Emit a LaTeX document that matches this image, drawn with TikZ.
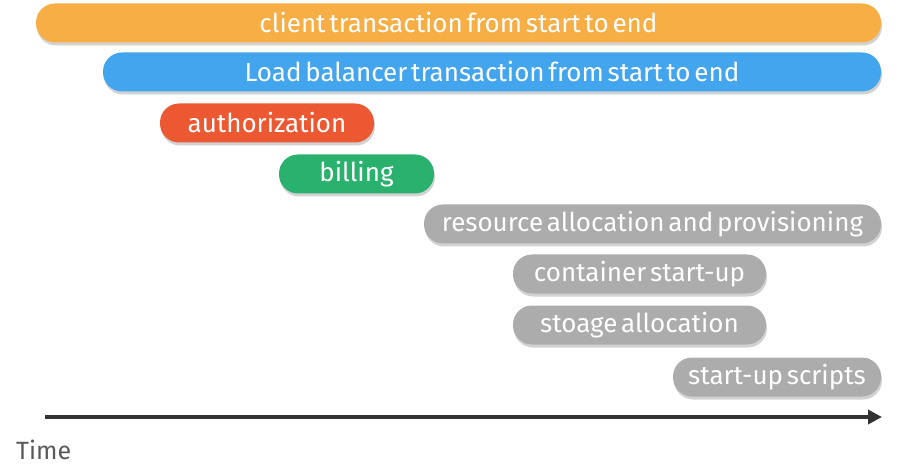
\documentclass[tikz,border=0pt]{standalone}
\usepackage{fontspec}
\setmainfont{Fira Sans}[WordSpace=0.55]
\usetikzlibrary{arrows.meta,shadows}

\definecolor{barorange}{RGB}{246,174,69}
\definecolor{barblue}{RGB}{66,165,238}
\definecolor{barred}{RGB}{235,88,50}
\definecolor{bargreen}{RGB}{43,177,110}
\definecolor{bargrey}{RGB}{172,172,172}
\definecolor{axisgrey}{RGB}{51,51,51}

\tikzset{
  phase/.style={rectangle, rounded corners=19pt, minimum height=39pt, inner sep=0pt,
    text=white, font=\fontsize{26}{28}\selectfont,
    drop shadow={shadow xshift=1pt, shadow yshift=-3pt, opacity=0.25, fill=black!70}},
}

\begin{document}
\begin{tikzpicture}[x=1pt, y=-1pt, >={Triangle[length=14pt, width=14pt]}]
	\useasboundingbox (0,0) rectangle (897,473);
	\foreach \name/\xa/\xb/\yc/\col/\lab in {client/36/881/23/barorange/client transaction from start to end,
		lb/103/881/72/barblue/Load balancer transaction from start to end,
		auth/160/374/123/barred/authorization,
		bill/279/434/174/bargreen/billing,
		res/424/881/224/bargrey/resource allocation and provisioning,
		cont/513/766/274/bargrey/container start-up,
		stor/513/766/325/bargrey/stoage allocation,
		scr/673/881/377/bargrey/start-up scripts} {
		\node[phase, fill=\col, minimum width={(\xb-\xa)*1pt}] (\name) at ({(\xa+\xb)/2},\yc) {\lab};
	}
	\coordinate (t0) at (45,417);
	\coordinate (t1) at (882,417);
	\draw[->, axisgrey, line width=4pt] (t0) -- (t1);
	\node[anchor=west, inner sep=0pt, text=black!65, font=\fontsize{25}{27}\selectfont] (time) at (16,450) {Time};
\end{tikzpicture}
\end{document}
